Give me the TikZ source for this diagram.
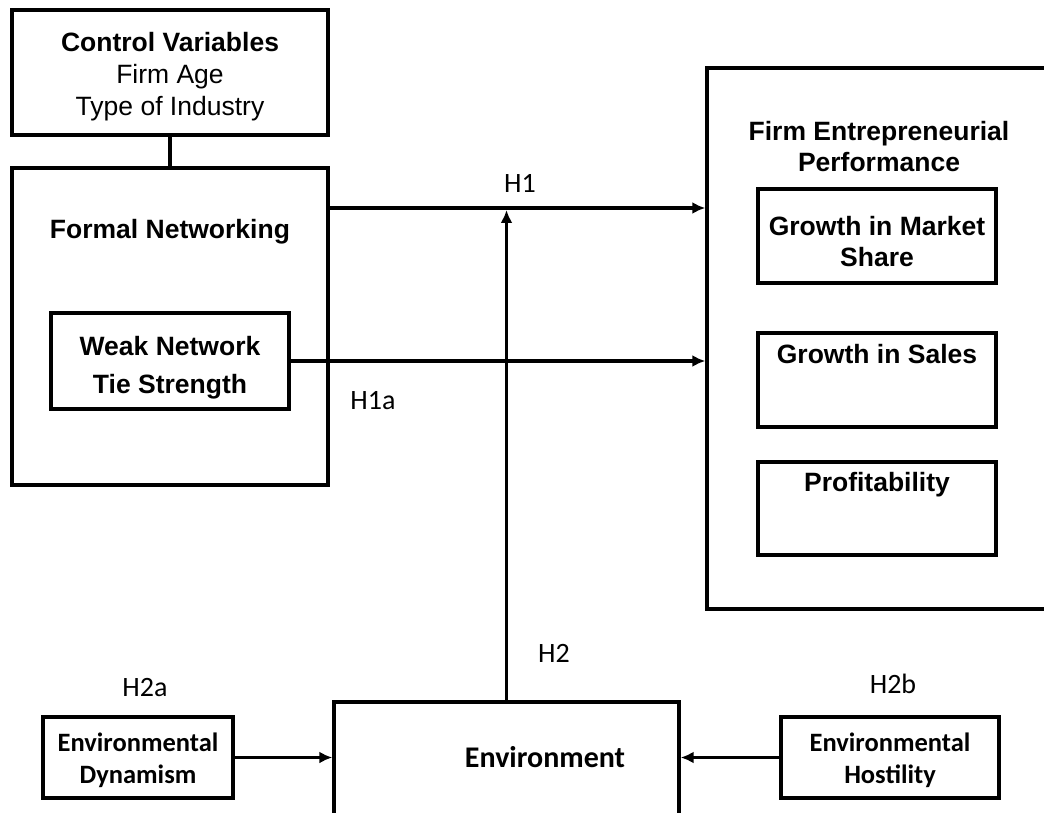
\documentclass[tikz,border=0pt]{standalone}
\usepackage{fontspec}
\setmainfont{Liberation Sans}
\newfontfamily\calfont{Carlito}
\usetikzlibrary{arrows.meta}

\tikzset{
  box/.style={draw, line width=3.4pt, inner sep=0pt},
  heading/.style={font=\fontsize{26.5}{31}\selectfont\bfseries, align=center, inner sep=0pt, anchor=north},
  envtext/.style={font=\fontsize{26.5}{32}\selectfont\calfont\bfseries, align=center, inner sep=0pt, anchor=north},
  hyp/.style={font=\fontsize{28}{32}\selectfont\calfont, inner sep=0pt},
  link/.style={line width=3.4pt},
  arr/.style={line width=3.4pt, -{Latex[length=13pt,width=12pt]}}
}

\begin{document}
\begin{tikzpicture}[x=1pt, y=-1pt]
  \useasboundingbox (0,0) rectangle (1044,813);
  \clip (0,0) rectangle (1044,813);

  % left side
  \node[box, minimum width=316, minimum height=125] (ctrl) at (170,72.5) {};
  \node[box, minimum width=316, minimum height=317] (formal) at (170,326.5) {};
  \node[box, minimum width=238, minimum height=96] (weak) at (170,361) {};

  \node[font=\fontsize{26.5}{32}\selectfont, align=center, inner sep=0pt, anchor=north] (ctrltxt) at (170,32)
    {{\bfseries Control Variables}\\Firm Age\\Type of Industry};
  \node[heading] (formaltxt) at (170,219) {Formal Networking};
  \node[heading, font=\fontsize{26.5}{38}\selectfont\bfseries] (weaktxt) at (170,336) {Weak Network\\Tie Strength};

  % performance side
  \node[box, minimum width=353, minimum height=541] (perf) at (883.5,338.5) {};
  \node[box, minimum width=238, minimum height=94] (market) at (877,236) {};
  \node[box, minimum width=238, minimum height=94] (sales) at (877,380) {};
  \node[box, minimum width=238, minimum height=93] (profit) at (877,508.5) {};

  \node[heading] (perftxt) at (879,121) {Firm Entrepreneurial\\Performance};
  \node[heading] (markettxt) at (877,216) {Growth in Market\\Share};
  \node[heading] (salestxt) at (877,344) {Growth in Sales};
  \node[heading] (profittxt) at (877,472) {Profitability};

  % environment
  \node[box, minimum width=345, minimum height=128] (env) at (506.5,766) {};
  \node[box, minimum width=190, minimum height=81] (dyn) at (138,757.5) {};
  \node[box, minimum width=218, minimum height=81] (host) at (890,757.5) {};

  \node[envtext, font=\fontsize{30}{32}\selectfont\calfont\bfseries] (envtxt) at (545,746) {Environment};
  \node[envtext] (dyntxt) at (138,733) {Environmental\\Dynamism};
  \node[envtext] (hosttxt) at (890,733) {Environmental\\Hostility};

  % connectors
  \coordinate (h1) at (506.5,210);
  \draw[link] (ctrl.south) -- (formal.north);
  \draw[arr] (formal.east |- 0,208) -- (perf.west |- 0,208);
  \draw[arr] (weak.east) -- (perf.west |- weak.east);
  \draw[arr] (env.north) -- (h1);
  \draw[arr] (dyn.east) -- (env.west |- dyn.east);
  \draw[arr] (host.west) -- (env.east |- host.west);

  % hypothesis labels
  \node[hyp] (lh1) at (520,183) {H1};
  \node[hyp] (lh1a) at (373,401) {H1a};
  \node[hyp] (lh2) at (554,653) {H2};
  \node[hyp] (lh2a) at (145,688) {H2a};
  \node[hyp] (lh2b) at (893,684) {H2b};
\end{tikzpicture}
\end{document}
